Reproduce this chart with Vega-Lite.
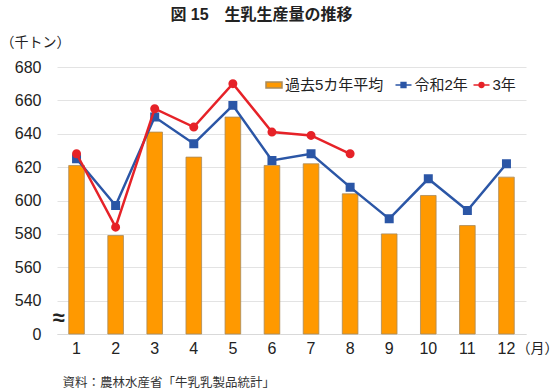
{
  "$schema": "https://vega.github.io/schema/vega-lite/v6.json",
  "width": 469,
  "height": 267,
  "autosize": {"type": "none"},
  "padding": {"left": 57, "top": 67, "right": 32, "bottom": 57},
  "background": "white",
  "config": {
    "font": "Liberation Sans, Noto Sans CJK JP",
    "view": {"stroke": null},
    "legend": {
      "title": null,
      "orient": "none",
      "direction": "horizontal",
      "padding": 0,
      "symbolSize": 256,
      "symbolOpacity": 1,
      "labelFontSize": 15,
      "labelColor": "#222222",
      "labelOffset": 2
    }
  },
  "title": {
    "text": "図 15　生乳生産量の推移",
    "anchor": "middle",
    "frame": "group",
    "dx": -30,
    "offset": 12,
    "fontSize": 16,
    "fontWeight": "bold",
    "color": "#222222",
    "font": "Liberation Sans, Noto Sans CJK JP"
  },
  "data": {
    "values": [
      {"month": 1, "series": "過去5カ年平均", "value": 621},
      {"month": 2, "series": "過去5カ年平均", "value": 579},
      {"month": 3, "series": "過去5カ年平均", "value": 641},
      {"month": 4, "series": "過去5カ年平均", "value": 626},
      {"month": 5, "series": "過去5カ年平均", "value": 650},
      {"month": 6, "series": "過去5カ年平均", "value": 621},
      {"month": 7, "series": "過去5カ年平均", "value": 622},
      {"month": 8, "series": "過去5カ年平均", "value": 604},
      {"month": 9, "series": "過去5カ年平均", "value": 580},
      {"month": 10, "series": "過去5カ年平均", "value": 603},
      {"month": 11, "series": "過去5カ年平均", "value": 585},
      {"month": 12, "series": "過去5カ年平均", "value": 614},
      {"month": 1, "series": "令和2年", "value": 625},
      {"month": 2, "series": "令和2年", "value": 597},
      {"month": 3, "series": "令和2年", "value": 650},
      {"month": 4, "series": "令和2年", "value": 634},
      {"month": 5, "series": "令和2年", "value": 657},
      {"month": 6, "series": "令和2年", "value": 624},
      {"month": 7, "series": "令和2年", "value": 628},
      {"month": 8, "series": "令和2年", "value": 608},
      {"month": 9, "series": "令和2年", "value": 589},
      {"month": 10, "series": "令和2年", "value": 613},
      {"month": 11, "series": "令和2年", "value": 594},
      {"month": 12, "series": "令和2年", "value": 622},
      {"month": 1, "series": "3年", "value": 628},
      {"month": 2, "series": "3年", "value": 584},
      {"month": 3, "series": "3年", "value": 655},
      {"month": 4, "series": "3年", "value": 644},
      {"month": 5, "series": "3年", "value": 670},
      {"month": 6, "series": "3年", "value": 641},
      {"month": 7, "series": "3年", "value": 639},
      {"month": 8, "series": "3年", "value": 628}
    ]
  },
  "encoding": {
    "x": {
      "field": "month",
      "type": "ordinal",
      "scale": {"paddingInner": 0.6, "paddingOuter": 0.3},
      "axis": {
        "labelAngle": 0,
        "labelFontSize": 16,
        "labelColor": "#222222",
        "labelPadding": 6,
        "ticks": false,
        "domain": true,
        "domainColor": "#d9d9d9",
        "grid": false,
        "title": "資料：農林水産省「牛乳乳製品統計」",
        "titleX": 5,
        "titleY": 48,
        "titleAlign": "left",
        "titleAnchor": "start",
        "titleBaseline": "middle",
        "titleFontSize": 12.5,
        "titleFontWeight": "normal",
        "titleColor": "#333333"
      }
    },
    "y": {
      "field": "value",
      "type": "quantitative",
      "scale": {"domain": [520, 680], "zero": false, "nice": false},
      "axis": null
    }
  },
  "resolve": {"axis": {"y": "independent"}},
  "layer": [
    {
      "transform": [{"filter": "datum.series == '過去5カ年平均'"}],
      "mark": {"type": "bar", "stroke": "#a88a5c", "strokeWidth": 0.8},
      "encoding": {
        "y": {
          "field": "value",
          "type": "quantitative",
          "scale": {"domain": [520, 680], "zero": false, "nice": false},
          "axis": {
            "values": [520, 530, 540, 560, 580, 600, 620, 640, 660, 680],
            "labelExpr": "datum.value == 520 ? '0' : datum.value == 530 ? '≈' : datum.label",
            "labelFontSize": {"condition": {"test": "datum.value == 530", "value": 22}, "value": 16},
            "labelFontWeight": {"condition": {"test": "datum.value == 530", "value": "bold"}, "value": "normal"},
            "labelPadding": {"condition": {"test": "datum.value == 530", "value": -7}, "value": 16},
            "labelColor": "#222222",
            "labelOverlap": false,
            "ticks": false,
            "domain": false,
            "grid": true,
            "gridColor": "#e3e3e3",
            "gridOpacity": {"condition": {"test": "datum.value == 530", "value": 0}, "value": 1},
            "title": "（千トン）",
            "titleAngle": 0,
            "titleX": -57,
            "titleY": -25,
            "titleAlign": "left",
            "titleBaseline": "middle",
            "titleFontSize": 14,
            "titleFontWeight": "normal",
            "titleColor": "#222222"
          }
        },
        "y2": {"datum": 520},
        "fill": {
          "field": "series",
          "type": "nominal",
          "scale": {"domain": ["過去5カ年平均"], "range": ["#ff9900"]},
          "legend": {
            "legendX": 208,
            "legendY": 9,
            "symbolType": "M-1,-0.375H1V0.375H-1Z"
          }
        }
      }
    },
    {
      "transform": [{"filter": "datum.series == '令和2年'"}],
      "mark": {"type": "line", "strokeWidth": 2.5, "color": "#2b56a6"}
    },
    {
      "transform": [{"filter": "datum.series == '令和2年'"}],
      "mark": {"type": "point", "shape": "square", "filled": true, "size": 42, "opacity": 1, "stroke": "#2b56a6", "strokeWidth": 2.5},
      "encoding": {
        "color": {
          "field": "series",
          "type": "nominal",
          "scale": {"domain": ["令和2年"], "range": ["#2b56a6"]},
          "legend": {
            "legendX": 337.5,
            "legendY": 9,
            "symbolType": "M-1,0H1M-0.3,-0.3H0.3V0.3H-0.3Z"
          }
        }
      }
    },
    {
      "transform": [{"filter": "datum.series == '3年'"}],
      "mark": {"type": "line", "strokeWidth": 2.5, "color": "#e62228"},
      "encoding": {
        "y": {
          "field": "value",
          "type": "quantitative",
          "scale": {"domain": [520, 680], "zero": false, "nice": false},
          "axis": {
            "orient": "right",
            "labels": false,
            "ticks": false,
            "domain": false,
            "grid": false,
            "title": "（月）",
            "titleAngle": 0,
            "titleX": -10,
            "titleY": 281,
            "titleAlign": "left",
            "titleBaseline": "middle",
            "titleFontSize": 14,
            "titleFontWeight": "normal",
            "titleColor": "#222222"
          }
        }
      }
    },
    {
      "transform": [{"filter": "datum.series == '3年'"}],
      "mark": {"type": "point", "shape": "circle", "filled": true, "size": 42, "opacity": 1, "fill": "#e62228", "strokeWidth": 2.5},
      "encoding": {
        "stroke": {
          "field": "series",
          "type": "nominal",
          "scale": {"domain": ["3年"], "range": ["#e62228"]},
          "legend": {
            "legendX": 415.5,
            "legendY": 9,
            "symbolType": "M-1,0H1M0.3,0A0.3,0.3 0 1 1 -0.3,0A0.3,0.3 0 1 1 0.3,0Z"
          }
        }
      }
    }
  ]
}
